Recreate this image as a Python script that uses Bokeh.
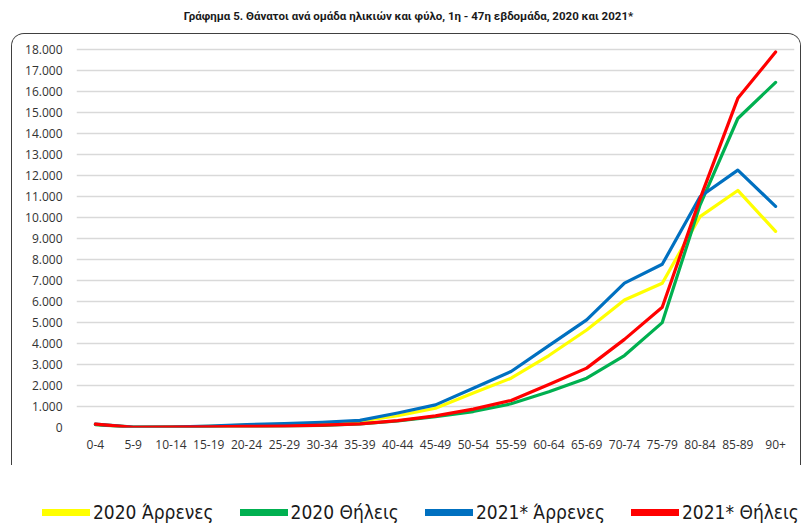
from bokeh.plotting import figure
from bokeh.models import (FactorRange, Range1d, FixedTicker, CustomJSTickFormatter,
                          Legend, LegendItem, ColumnDataSource, Label)
from bokeh.embed import file_html
from bokeh.resources import INLINE
import numpy as np

# ---- data ----
ages = ["0-4", "5-9", "10-14", "15-19", "20-24", "25-29", "30-34", "35-39", "40-44",
        "45-49", "50-54", "55-59", "60-64", "65-69", "70-74", "75-79", "80-84", "85-89", "90+"]
male_2020 = [150, 15, 20, 60, 120, 150, 210, 300, 560, 920, 1640, 2350, 3430, 4650,
             6080, 6880, 10050, 11300, 9350]
female_2020 = [130, 12, 15, 30, 45, 60, 100, 170, 310, 520, 760, 1130, 1700, 2350,
               3430, 5000, 10600, 14730, 16450]
male_2021 = [160, 15, 20, 70, 140, 180, 250, 340, 690, 1080, 1870, 2670, 3900, 5130,
             6880, 7780, 11000, 12270, 10540]
female_2021 = [160, 12, 15, 35, 50, 70, 110, 170, 330, 555, 875, 1290, 2050, 2830,
               4200, 5730, 10900, 15690, 17900]
series_labels = ["2020 Άρρενες", "2020 Θήλεις", "2021* Άρρενες", "2021* Θήλεις"]
series_colors = ["#FFFF00", "#00B050", "#0070C0", "#FF0000"]
y_ticks = list(range(0, 18001, 1000))
title_text = "Γράφημα 5. Θάνατοι ανά ομάδα ηλικιών και φύλο, 1η - 47η εβδομάδα, 2020 και 2021*"

src = ColumnDataSource(dict(age=ages, m20=male_2020, f20=female_2020,
                            m21=male_2021, f21=female_2021))
cols = ["m20", "f20", "m21", "f21"]


def blank_fig(w, h):
    f = figure(width=w, height=h, output_backend="svg", toolbar_location=None,
               min_border=0, min_border_left=0, min_border_right=0,
               min_border_top=0, min_border_bottom=0,
               x_axis_type=None, y_axis_type=None,
               x_range=Range1d(0, 1), y_range=Range1d(0, 1))
    f.grid.visible = False
    f.outline_line_color = None
    f.background_fill_color = "white"
    f.border_fill_color = "white"
    return f


# ---- title figure ----
tf = blank_fig(804, 33)
tf.line(x=[0, 1], y=[np.nan, np.nan])
tf.add_layout(Label(x=408, y=18, x_units="screen", y_units="screen", text=title_text,
                    text_align="center", text_baseline="middle", text_font="Roboto",
                    text_font_style="bold", text_font_size="11.5px",
                    text_color="#1a1a1a"))

# ---- main chart ----
p = figure(width=790, height=432, x_range=FactorRange(*ages), y_range=Range1d(0, 18400),
           output_backend="svg", toolbar_location=None, title=None,
           min_border_left=64, min_border_right=8, min_border_top=7, min_border_bottom=39,
           margin=(0, 0, 0, 11),
           styles={"border-top": "1.5px solid #404040", "border-left": "1.5px solid #404040",
                   "border-right": "1.5px solid #404040", "border-bottom": "none",
                   "border-radius": "13px 13px 0 0", "overflow": "hidden"})
p.outline_line_color = None
p.background_fill_color = "white"
p.border_fill_color = "white"

p.xaxis.axis_line_color = None
p.yaxis.axis_line_color = None
p.xaxis.major_tick_line_color = None
p.yaxis.major_tick_line_color = None
p.xaxis.minor_tick_line_color = None
p.yaxis.minor_tick_line_color = None
p.xaxis.major_tick_out = 0
p.yaxis.major_tick_out = 0
p.yaxis.ticker = FixedTicker(ticks=y_ticks)
p.yaxis.formatter = CustomJSTickFormatter(
    code="return String(tick).replace(/\\B(?=(\\d{3})+(?!\\d))/g, '.');")
for ax in (p.xaxis, p.yaxis):
    ax.major_label_text_font = "Open Sans"
    ax.major_label_text_font_size = "12px"
    ax.major_label_text_color = "#333333"
p.yaxis.major_label_standoff = 14
p.xaxis.major_label_standoff = 12

p.xgrid.grid_line_color = None
p.ygrid.grid_line_color = "#D9D9D9"
p.ygrid.grid_line_width = 1.3

for col, colr in zip(cols, series_colors):
    p.line(x="age", y=col, source=src, line_color=colr, line_width=3.2,
           line_join="round", line_cap="round")

# ---- legend figure ----
lf = blank_fig(804, 64)
items = []
for lab, colr in zip(series_labels, series_colors):
    r = lf.line(x=[0, 1], y=[np.nan, np.nan], line_color=colr, line_width=7,
                line_cap="round")
    items.append(LegendItem(label=lab, renderers=[r]))
legend = Legend(items=items, orientation="horizontal", location=(42, 3),
                glyph_width=48, glyph_height=28, label_height=28, label_standoff=3,
                spacing=26, padding=0, margin=0, border_line_color=None,
                background_fill_alpha=0, label_text_font="DejaVu Sans Condensed",
                label_text_font_size="19px", label_text_color="#1a1a1a")
lf.add_layout(legend)

open("out.html", "w").write(file_html([tf, p, lf], INLINE))
